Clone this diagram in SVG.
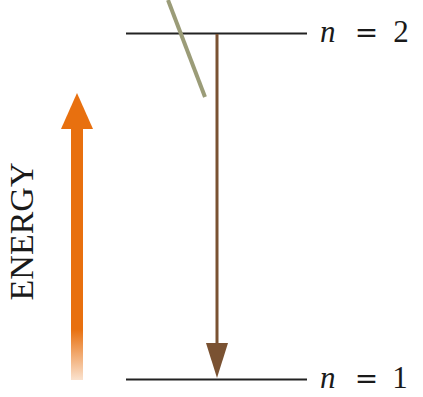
<svg xmlns="http://www.w3.org/2000/svg" width="423" height="397" viewBox="0 0 423 397">
<style>
.level{stroke:#222;stroke-width:2.2;fill:none}
.lbl{font-family:"Liberation Serif","Times New Roman",serif;font-size:31px;fill:#1a1a1a}
.it{font-style:italic}
.eq{font-family:"DejaVu Serif",serif;font-size:28px;fill:#1a1a1a}
</style>
<defs>
<linearGradient id="fade" x1="0" y1="0" x2="0" y2="1" gradientUnits="objectBoundingBox">
<stop offset="0" stop-color="#e8700f"/>
<stop offset="0.8" stop-color="#e8700f"/>
<stop offset="1" stop-color="#e8700f" stop-opacity="0.2"/>
</linearGradient>
</defs>
<g id="level-n2">
<line class="level" x1="126" y1="33.5" x2="307" y2="33.5"/>
<text class="lbl it" x="320" y="42">n</text>
<text class="eq" x="366.5" y="42" text-anchor="middle">=</text>
<text class="lbl" x="401" y="42" text-anchor="middle">2</text>
</g>
<g id="level-n1">
<line class="level" x1="126" y1="379.5" x2="307" y2="379.5"/>
<text class="lbl it" x="320" y="388">n</text>
<text class="eq" x="366.5" y="388" text-anchor="middle">=</text>
<text class="lbl" x="400" y="388" text-anchor="middle">1</text>
</g>
<g id="energy-axis">
<rect x="71" y="126" width="12" height="254" fill="url(#fade)"/>
<polygon points="77,93 93,129 61,129" fill="#e8700f"/>
<text transform="translate(33,231.5) rotate(-90)" text-anchor="middle" font-family="Liberation Serif,'Times New Roman',serif" font-size="34" fill="#1a1a1a">ENERGY</text>
</g>
<g id="connectors">
<line x1="168" y1="0" x2="205" y2="97" stroke="#9b9c78" stroke-width="4"/>
<line x1="217" y1="34" x2="217" y2="346" stroke="#7a5232" stroke-width="3"/>
<polygon points="206,343 228,343 217,378" fill="#7a5232"/>
</g>
</svg>
